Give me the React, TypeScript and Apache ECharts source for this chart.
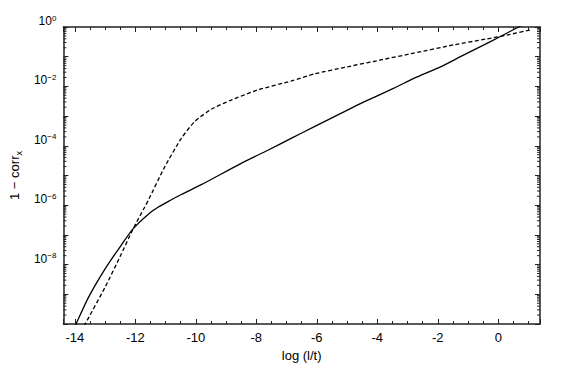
import React, { useEffect, useRef } from "react";
import * as echarts from "echarts";

// log(l/t) positions and 1 - corr_x values
const solidX = [-14.2, -13.96, -13.55, -13.0, -12.51, -12.07, -11.57, -11.25, -10.92, -10.48, -9.82, -8.5, -7.62, -6.85, -6.08, -4.99, -4.44, -3.45, -2.79, -1.91, -1.25, -0.59, 0.07, 0.67, 1.0];
const solidY = [2.9e-11, 1e-10, 7.9e-10, 7.2e-9, 3.9e-8, 1.62e-7, 5.0e-7, 8.5e-7, 1.32e-6, 2.3e-6, 4.9e-6, 2.57e-5, 7.1e-5, 1.78e-4, 4.4e-4, 1.58e-3, 3.0e-3, 8.7e-3, 0.0186, 0.0457, 0.1, 0.219, 0.479, 1.0, 1.48];

const dashedX = [-13.8, -13.66, -13.0, -12.51, -12.07, -11.69, -11.57, -11.03, -10.48, -10.04, -9.49, -8.83, -7.95, -6.85, -6.08, -4.99, -3.89, -2.79, -1.47, -0.37, 0.29, 1.05];
const dashedY = [5.5e-11, 1e-10, 1.74e-9, 1.82e-8, 1.62e-7, 8.7e-7, 1.48e-6, 1.95e-5, 1.78e-4, 6.5e-4, 1.7e-3, 3.47e-3, 7.6e-3, 0.0151, 0.0263, 0.0457, 0.0776, 0.132, 0.251, 0.398, 0.537, 0.794];

const xRange = [-14.38, 1.38];
const yRange = [1e-10, 1];
const yLabelExponents = [0, -2, -4, -6, -8];
const xTickLabels = [-14, -12, -10, -8, -6, -4, -2, 0];

const FONT = "'Liberation Sans', Arial, Helvetica, sans-serif";

export default function App() {
  const ref = useRef<HTMLDivElement>(null);
  useEffect(() => {
    const chart = echarts.init(ref.current!, null, { renderer: "svg" });
    const axisColor = "#222";
    const xAxisBase = {
      type: "value",
      min: xRange[0],
      max: xRange[1],
      splitNumber: 8,
      splitLine: { show: false },
      axisLine: { show: true, onZero: false, lineStyle: { color: axisColor, width: 1.5 } },
      axisTick: { show: true, inside: true, length: 5, lineStyle: { color: axisColor, width: 1 } },
      minorTick: { show: true, splitNumber: 4, length: 3, lineStyle: { color: axisColor, width: 1 } },
    };
    const yAxisBase = {
      type: "log",
      logBase: 10,
      min: yRange[0],
      max: yRange[1],
      interval: 1,
      splitLine: { show: false },
      axisLine: { show: true, onZero: false, lineStyle: { color: axisColor, width: 1.5 } },
      axisTick: { show: true, inside: true, length: 5, lineStyle: { color: axisColor, width: 1 } },
    };
    chart.setOption({
      animation: false,
      backgroundColor: "#fff",
      grid: { left: 62, right: 35, top: 27, bottom: 52, containLabel: false },
      xAxis: [
        {
          ...xAxisBase,
          position: "bottom",
          name: "log (l/t)",
          nameLocation: "middle",
          nameGap: 24,
          nameTextStyle: { color: "#000", fontFamily: FONT, fontSize: 13 },
          axisLabel: {
            show: true,
            color: "#000",
            fontFamily: FONT,
            fontSize: 13,
            margin: 7,
            showMinLabel: false,
            showMaxLabel: false,
            formatter: (v: number) => {
              const r = Math.round(v);
              return Math.abs(v - r) < 1e-6 && xTickLabels.includes(r) ? String(r) : "";
            },
          },
        },
        { ...xAxisBase, position: "top", axisLabel: { show: false } },
      ],
      yAxis: [
        {
          ...yAxisBase,
          position: "left",
          name: "{a|1 \u2212 corr}{s|x}",
          nameLocation: "middle",
          nameGap: 36,
          nameRotate: 90,
          nameTextStyle: {
            color: "#000",
            fontFamily: FONT,
            fontSize: 13,
            rich: {
              a: { fontFamily: FONT, fontSize: 13, color: "#000" },
              s: { fontFamily: FONT, fontSize: 9, color: "#000", padding: [8, 0, 0, 0] },
            },
          },
          axisLabel: {
            show: true,
            hideOverlap: false,
            showMinLabel: true,
            showMaxLabel: true,
            margin: 7,
            color: "#000",
            fontFamily: FONT,
            fontSize: 12,
            verticalAlign: "bottom",
            formatter: (v: number) => {
              const e = Math.round(Math.log10(v));
              return yLabelExponents.includes(e) ? `{b|10}{s|${e === 0 ? "0" : "\u2212" + -e}}` : "";
            },
            rich: {
              b: { fontFamily: FONT, fontSize: 12, lineHeight: 12, color: "#000" },
              s: { fontFamily: FONT, fontSize: 8, lineHeight: 8, color: "#000", padding: [0, 0, 6, 0] },
            },
          },
        },
        { ...yAxisBase, position: "right", axisLabel: { show: false } },
      ],
      series: [
        {
          type: "line",
          data: solidX.map((x, i) => [x, solidY[i]]),
          showSymbol: false,
          smooth: 0.25,
          clip: true,
          lineStyle: { color: "#000", width: 1.3 },
          z: 3,
        },
        {
          type: "line",
          data: dashedX.map((x, i) => [x, dashedY[i]]),
          showSymbol: false,
          smooth: 0.2,
          clip: true,
          lineStyle: { color: "#000", width: 1.3, type: [4, 2.5] },
          z: 3,
        },
      ],
    });

    // log-spaced minor ticks on left and right frames
    const xl = chart.convertToPixel({ xAxisIndex: 0 }, xRange[0]) as number;
    const xr = chart.convertToPixel({ xAxisIndex: 0 }, xRange[1]) as number;
    const els: any[] = [];
    for (let e = -10; e < 0; e++) {
      for (let k = 2; k <= 9; k++) {
        const py = chart.convertToPixel({ yAxisIndex: 0 }, k * Math.pow(10, e)) as number;
        els.push({ type: "line", shape: { x1: xl, y1: py, x2: xl + 3, y2: py }, style: { stroke: axisColor, lineWidth: 1 }, silent: true });
        els.push({ type: "line", shape: { x1: xr, y1: py, x2: xr - 3, y2: py }, style: { stroke: axisColor, lineWidth: 1 }, silent: true });
      }
    }
    chart.setOption({ graphic: els });
    return () => chart.dispose();
  }, []);
  return <div ref={ref} style={{ position: "fixed", left: 0, top: 0, width: 575, height: 376 }} />;
}
